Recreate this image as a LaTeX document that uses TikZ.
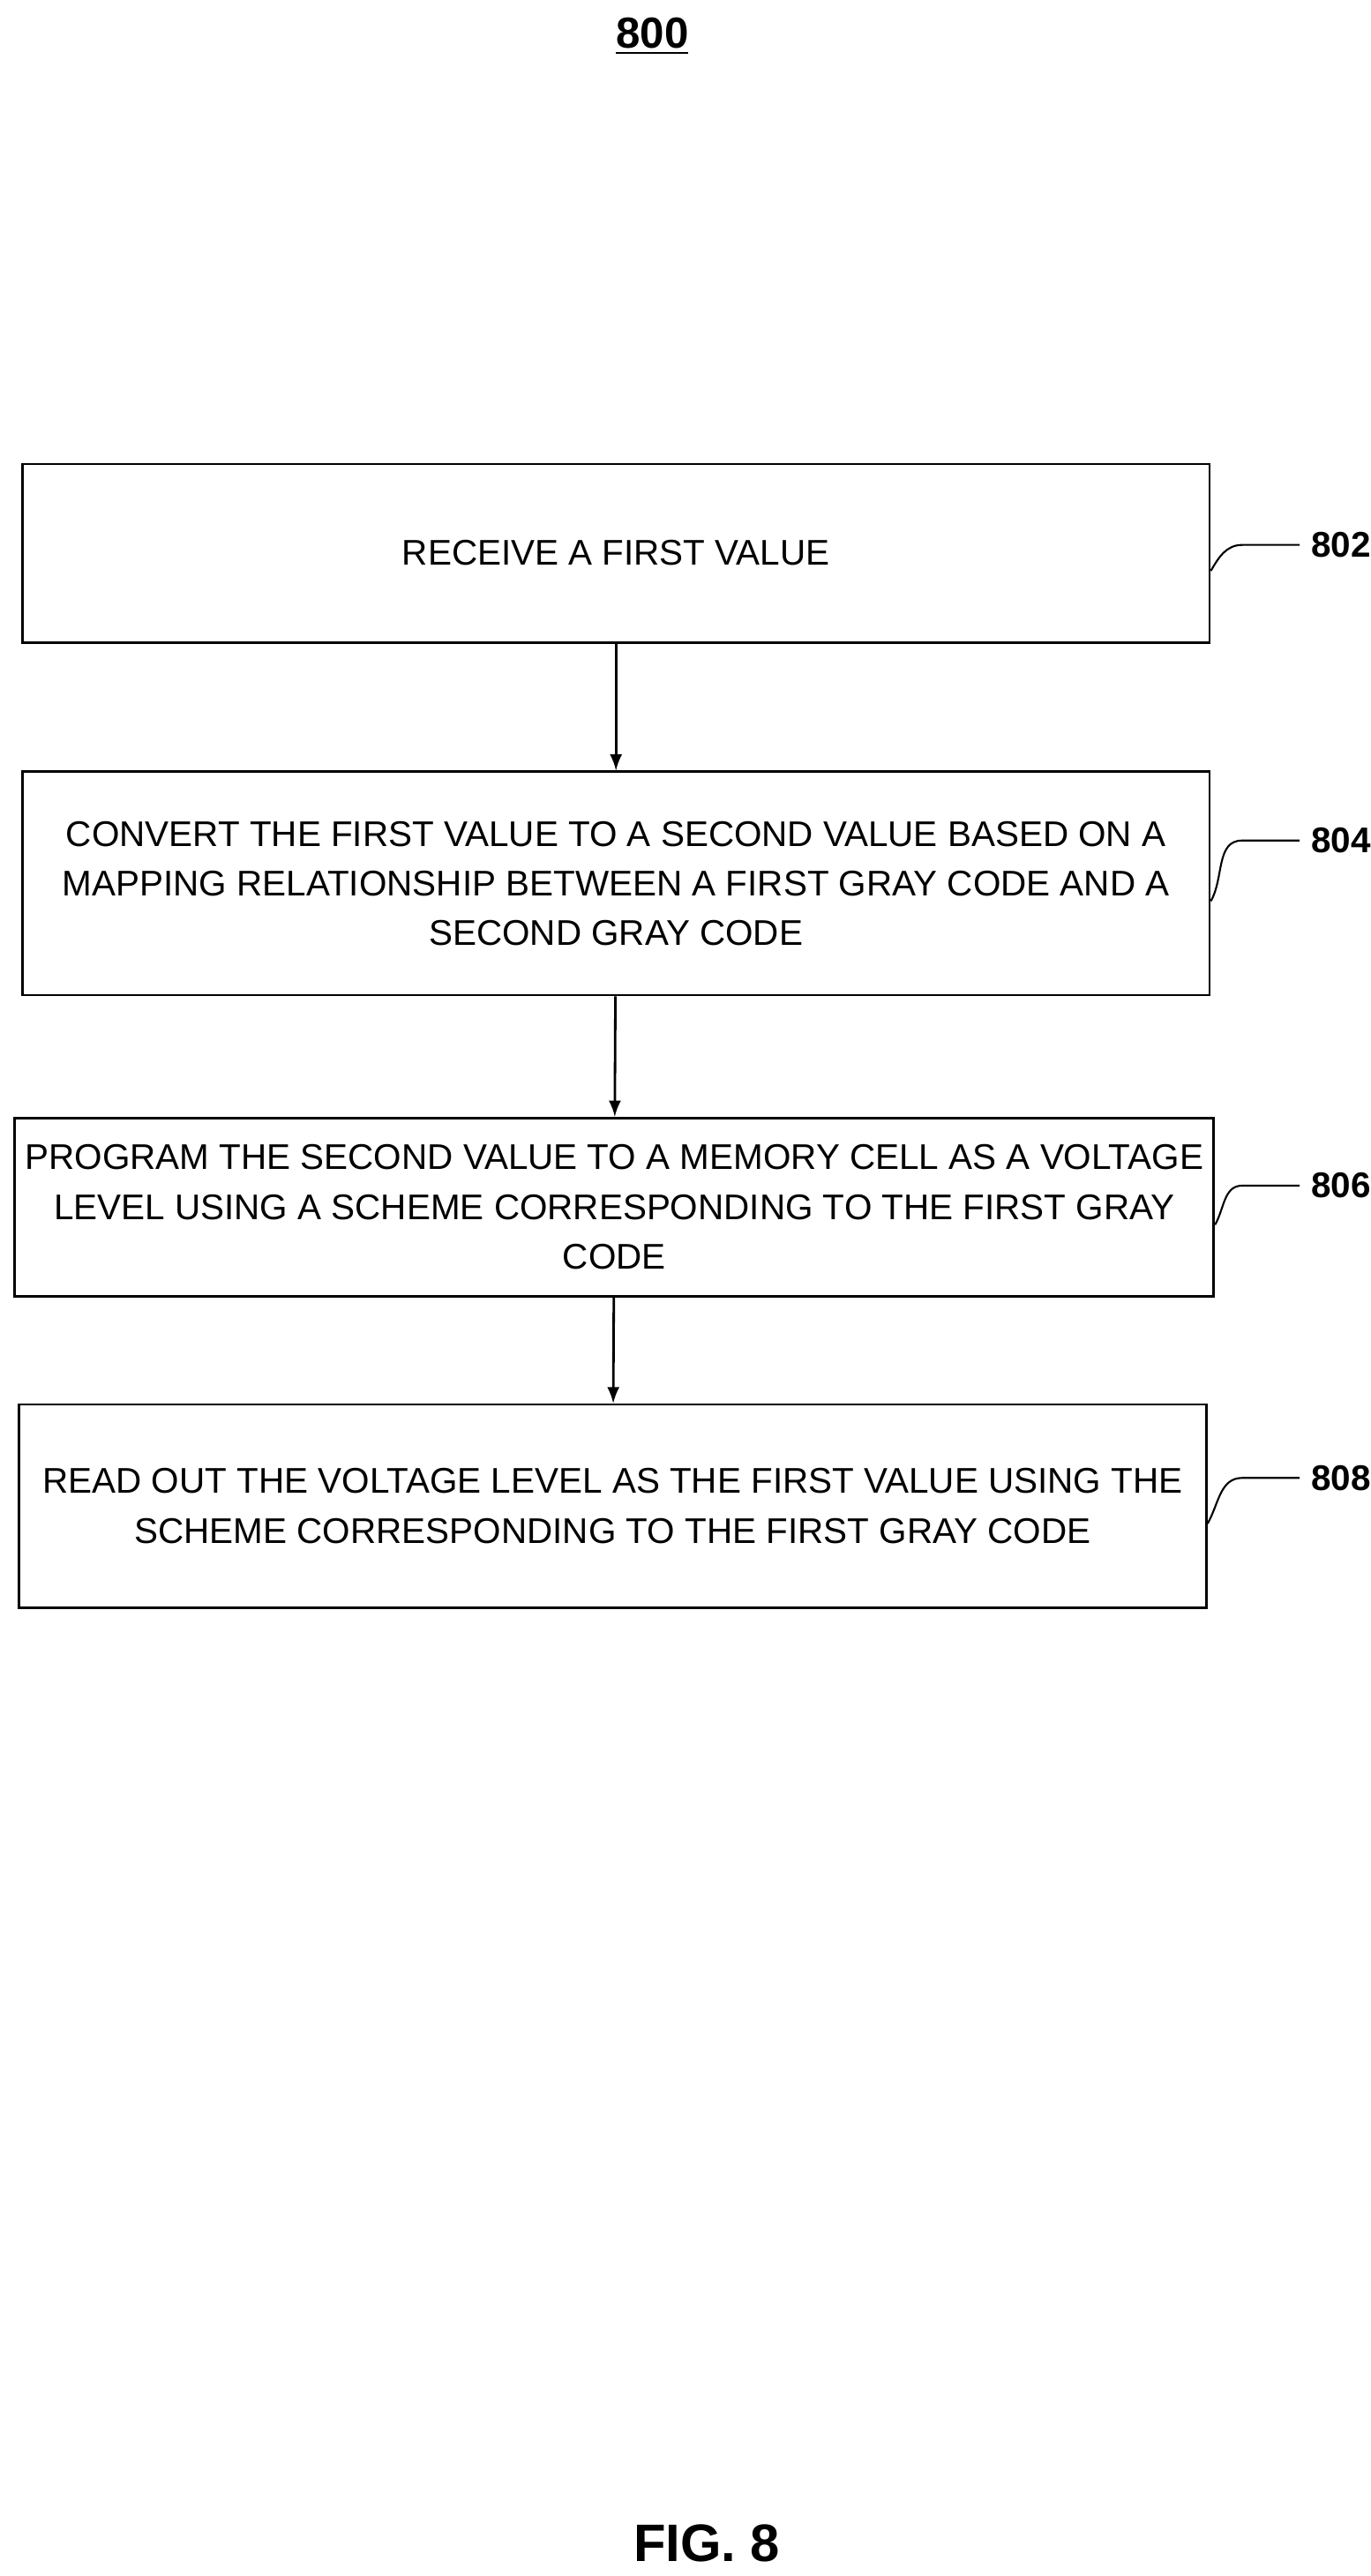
\documentclass[tikz,border=0pt]{standalone}
\usepackage{fontspec}
\setmainfont{Liberation Sans}
\usetikzlibrary{positioning}
\begin{document}
\begin{tikzpicture}[x=0.01871cm, y=-0.01871cm, >=latex, line width=0.8pt,
  stepbox/.style={draw, rectangle, minimum width=13.45cm, align=center, font=\fontsize{11.5}{16}\selectfont},
  ref/.style={font=\bfseries\fontsize{11.5}{14}\selectfont}]

    \useasboundingbox (0,0) rectangle (830,1560);

    % Title
    \node[font=\bfseries\fontsize{14}{16}\selectfont] at (395,22) (title) {\underline{800}};

    % Steps
    \node[stepbox, minimum height=2.02cm] at (373,335) (s802) {RECEIVE A FIRST VALUE};
    \node[stepbox, minimum height=2.53cm] at (373,535) (s804) {CONVERT THE FIRST VALUE TO A SECOND VALUE BASED ON A\\MAPPING RELATIONSHIP BETWEEN A FIRST GRAY CODE AND A\\SECOND GRAY CODE};
    \node[stepbox, minimum height=2.02cm] at (372,731) (s806) {PROGRAM THE SECOND VALUE TO A MEMORY CELL AS A VOLTAGE\\LEVEL USING A SCHEME CORRESPONDING TO THE FIRST GRAY\\CODE};
    \node[stepbox, minimum height=2.30cm] at (371,912) (s808) {READ OUT THE VOLTAGE LEVEL AS THE FIRST VALUE USING THE\\SCHEME CORRESPONDING TO THE FIRST GRAY CODE};

    \draw[->] (s802) -- (s804);
    \draw[->] (s804) -- (s806);
    \draw[->] (s806) -- (s808);

    % Reference labels
    \node[ref, anchor=west] at (787,330) (l802) {802};
    \node[ref, anchor=west] at (787,509) (l804) {804};
    \node[ref, anchor=west] at (787,718) (l806) {806};
    \node[ref, anchor=west] at (787,895) (l808) {808};
    \foreach \s in {802,804,806,808}
        \draw[line width=0.6pt] ([yshift=-0.2cm]s\s.east) to[out=60,in=180] ([xshift=-0.65cm]l\s.west) -- (l\s.west);

    % Figure label
    \node[font=\bfseries\fontsize{17}{20}\selectfont] at (428,1540) (fig) {FIG. 8};
\end{tikzpicture}
\end{document}
